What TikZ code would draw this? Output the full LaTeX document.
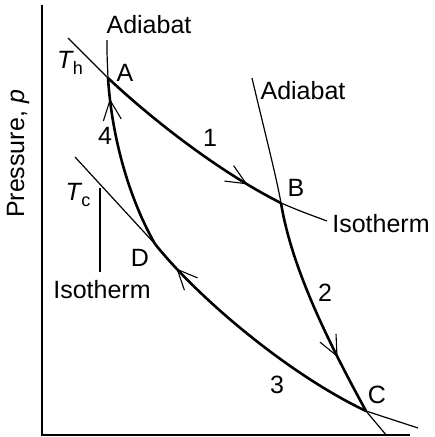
\documentclass[tikz,border=0pt]{standalone}
\usepackage{fontspec}
\setmainfont{Liberation Sans}
\usetikzlibrary{decorations.markings,arrows.meta}
\tikzset{
  thick curve/.style={line width=2.6pt},
  thin curve/.style={line width=1.2pt},
  axis/.style={line width=1.4pt},
  lbl/.style={inner sep=0pt, font=\fontsize{25}{29}\selectfont},
  fwdarrow/.style={postaction={decorate, decoration={markings, mark=at position #1 with {\arrow[line width=1.1pt]{Straight Barb[length=20pt,width=18pt]}}}}},
  revarrow/.style={postaction={decorate, decoration={markings, mark=at position #1 with {\arrowreversed[line width=1.1pt]{Straight Barb[length=20pt,width=18pt]}}}}}
}
\begin{document}
\begin{tikzpicture}[x=1pt,y=-1pt]
\useasboundingbox (0,0) rectangle (435,437);
% axes
\coordinate (O) at (42,435);
\coordinate (ytop) at (42,5);
\coordinate (xend) at (410,435);
\draw[axis] (ytop) -- (O) -- (xend);
% cycle corners
\coordinate (A) at (108,78);
\coordinate (B) at (281,203);
\coordinate (C) at (366,411);
\coordinate (D) at (155,244);
% thin extensions
\coordinate (thA) at (68,38);
\coordinate (adA) at (107,40);
\coordinate (adB) at (252,78);
\coordinate (thB) at (327,221);
\coordinate (adC) at (387,436);
\coordinate (tcC) at (418,428);
\coordinate (tcD) at (75,157);
\coordinate (tickT) at (100,188);
\coordinate (tickB) at (100,272);
\draw[thin curve] (thA) -- (A);
\draw[thin curve] (adA) .. controls (107,55) .. (A);
\draw[thin curve] (adB) .. controls (263,125) and (276,175) .. (B);
\draw[thin curve] (B) .. controls (300,211) .. (thB);
\draw[thin curve] (C) .. controls (377,423) .. (adC);
\draw[thin curve] (C) .. controls (392,420) .. (tcC);
\draw[thin curve] (tcD) -- (D);
\draw[thin curve] (tickT) -- (tickB);
% thick cycle
\draw[thick curve, fwdarrow=0.82] (A) .. controls (158,125) and (225,175) .. (B);
\draw[thick curve, fwdarrow=0.73] (B) .. controls (292,270) and (330,345) .. (C);
\draw[thick curve, revarrow=0.12] (D) .. controls (200,300) and (290,375) .. (C);
\draw[thick curve, revarrow=0.12] (A) .. controls (112,140) and (130,200) .. (D);
% labels
\node[lbl] (adiabat1) at (149,25) {Adiabat};
\node[lbl] (Th) at (70,63) {\textit{T}\kern-1pt\raisebox{-6pt}{\fontsize{18}{20}\selectfont h}};
\node[lbl] (lA) at (125,73) {A};
\node[lbl] (l4) at (105,136) {4};
\node[lbl] (l1) at (210,138) {1};
\node[lbl] (adiabat2) at (303,91) {Adiabat};
\node[lbl] (lB) at (296,188) {B};
\node[lbl] (iso1) at (381,224) {Isotherm};
\node[lbl] (Tc) at (78,195) {\textit{T}\kern-1pt\raisebox{-6pt}{\fontsize{18}{20}\selectfont c}};
\node[lbl] (lD) at (140,258) {D};
\node[lbl] (iso2) at (102,290) {Isotherm};
\node[lbl] (l2) at (325,293) {2};
\node[lbl] (l3) at (277,385) {3};
\node[lbl] (lC) at (377,395) {C};
\node[lbl, rotate=90] (ylab) at (18,154) {Pressure, \textit{p}};
\end{tikzpicture}
\end{document}
